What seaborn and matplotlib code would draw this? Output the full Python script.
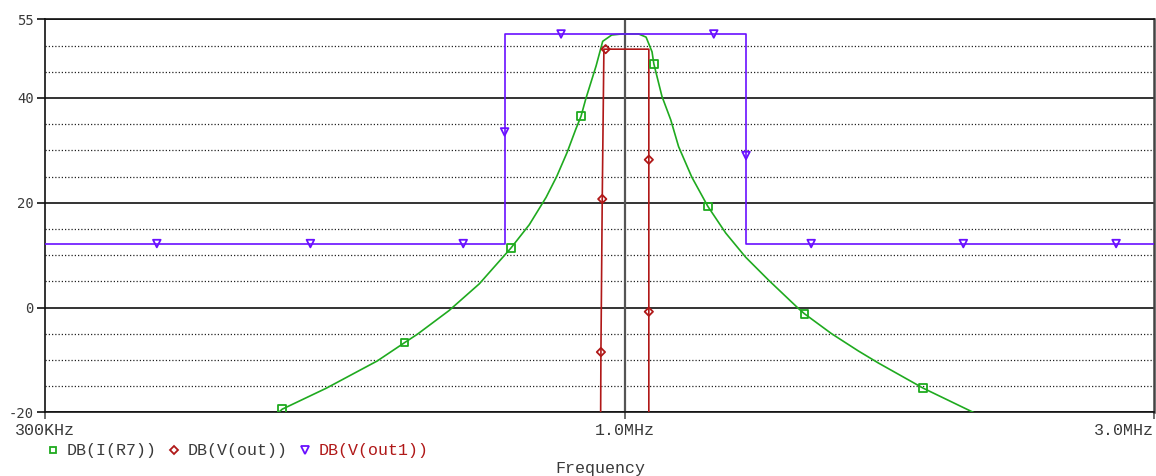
import numpy as np
import pandas as pd
import matplotlib
matplotlib.use("Agg")
import matplotlib.pyplot as plt
from matplotlib.lines import Line2D
from matplotlib.ticker import FixedLocator, NullLocator
import seaborn as sns

# ---- trace data (frequency in MHz, magnitude in dB) ----
# DB(I(R7)) : resonant current response
r7_freq = [0.470, 0.485, 0.491, 0.538, 0.598, 0.633, 0.650, 0.694, 0.739, 0.789,
           0.820, 0.849, 0.868, 0.887, 0.903, 0.913, 0.922, 0.934, 0.942, 0.955,
           0.973, 0.994, 1.013, 1.029, 1.045, 1.058, 1.062, 1.080, 1.100, 1.118,
           1.149, 1.188, 1.233, 1.285, 1.348, 1.434, 1.452, 1.536, 1.624, 1.693,
           1.858, 2.061, 2.120]
r7_db = [-21.9, -20.4, -19.4, -15.4, -10.2, -6.7, -5.1, -0.6, 4.5, 11.3,
         15.8, 21.0, 25.0, 29.6, 34.0, 36.5, 39.8, 43.6, 46.1, 50.8,
         52.0, 52.2, 52.2, 52.2, 51.6, 48.8, 46.5, 40.3, 35.8, 30.7,
         24.9, 19.3, 14.2, 9.6, 5.2, -0.2, -1.2, -5.0, -8.3, -10.6,
         -15.4, -20.0, -21.5]
r7_marks = [2, 5, 9, 15, 26, 31, 36, 40]

# DB(V(out)) : narrow band output
out_freq = [0.9505, 0.9515, 0.9541, 0.9574, 0.9608, 1.051, 1.051, 1.051, 1.051]
out_db = [-30.0, -8.5, 20.7, 49.3, 49.3, 49.3, 28.2, -0.8, -30.0]
out_marks = [1, 2, 4, 6, 7]

# DB(V(out1)) : wide band output
out1_freq = [0.300, 0.3784, 0.5205, 0.7149, 0.779, 0.779, 0.779, 0.8759, 1.2027,
             1.286, 1.286, 1.286, 1.4723, 2.0192, 2.773, 3.000]
out1_db = [12.2, 12.2, 12.2, 12.2, 12.2, 33.5, 52.2, 52.2, 52.2,
           52.2, 29.0, 12.2, 12.2, 12.2, 12.2, 12.2]
out1_marks = [1, 2, 3, 5, 7, 8, 10, 12, 13, 14]

trace_names = ["DB(I(R7))", "DB(V(out))", "DB(V(out1))"]

# axis annotation
y_major = [-20, 0, 20, 40, 55]
y_minor = [-15, -10, -5, 5, 10, 15, 25, 30, 35, 45, 50]
x_ticks_mhz = [0.3, 1.0, 3.0]
x_tick_labels = ["300KHz", "1.0MHz", "3.0MHz"]

GREEN = "#1faa1f"
RED = "#b01818"
PURPLE = "#6a10ff"
TEXT = "#3a3a3a"

sns.set_theme(style="white")
plt.rcParams["font.family"] = ["Liberation Mono", "DejaVu Sans Mono"]

fig = plt.figure(figsize=(11.56, 4.76), dpi=100)
ax = fig.add_axes([45 / 1156, 1 - 412.3 / 476, (1154 - 45) / 1156, (412.3 - 19.3) / 476])
ax.set_facecolor("white")

# grid: solid at labelled levels, dotted in between
for v in y_major:
    ax.axhline(v, color="#111111", lw=1.2, zorder=1)
for v in y_minor:
    ax.axhline(v, color="#222222", lw=0.9, ls=(0, (1, 1.6)), zorder=1)
ax.axvline(1.0e6, color="#555555", lw=1.6, zorder=1)


def draw_trace(freq, db, marks, color, marker, msize):
    hz = np.asarray(freq) * 1e6
    db = np.asarray(db)
    sns.lineplot(x=hz, y=db, ax=ax, sort=False, estimator=None,
                 color=color, lw=1.2, zorder=3)
    sns.scatterplot(x=hz[marks], y=db[marks], ax=ax, marker=marker, s=msize,
                    color=color, facecolor="none", edgecolor=color,
                    linewidth=1.3, zorder=4)


draw_trace(r7_freq, r7_db, r7_marks, GREEN, "s", 30)
draw_trace(out_freq, out_db, out_marks, RED, "D", 18)
draw_trace(out1_freq, out1_db, out1_marks, PURPLE, "v", 30)

ax.set_xscale("log")
ax.set_xlim(0.3e6, 3.0e6)
ax.set_ylim(-20, 55)

ax.xaxis.set_major_locator(FixedLocator([f * 1e6 for f in x_ticks_mhz]))
ax.xaxis.set_minor_locator(NullLocator())
ax.set_xticklabels(x_tick_labels)
ax.set_yticks(y_major)
ax.set_yticklabels([str(v) for v in y_major], family="DejaVu Sans Mono",
                   fontsize=10, color=TEXT)
for lab in ax.get_xticklabels():
    lab.set_fontsize(12)
    lab.set_color(TEXT)
ax.get_xticklabels()[-1].set_ha("right")

ax.tick_params(axis="y", direction="out", length=6, width=1.2, color="#111111",
               pad=2, left=True)
ax.tick_params(axis="x", direction="out", length=5, width=1.2, color="#555555",
               pad=3, bottom=True)

for side in ["left", "bottom", "top"]:
    ax.spines[side].set_color("#111111")
    ax.spines[side].set_linewidth(1.2)
ax.spines["right"].set_color("#444444")
ax.spines["right"].set_linewidth(1.8)

ax.set_xlabel("")
ax.set_ylabel("")
fig.text(600 / 1156, 1 - 468 / 476, "Frequency", fontsize=12, color=TEXT,
         ha="center", va="center")

handles = [
    Line2D([], [], ls="none", marker="s", mfc="none", mec=GREEN, ms=5, mew=1.3),
    Line2D([], [], ls="none", marker="D", mfc="none", mec=RED, ms=4, mew=1.3),
    Line2D([], [], ls="none", marker="v", mfc="none", mec=PURPLE, ms=5.5, mew=1.3),
]
leg = fig.legend(handles, trace_names, loc="center left",
                 bbox_to_anchor=(47 / 1156, 1 - 451 / 476), ncol=3,
                 frameon=False, fontsize=12, handlelength=0.7,
                 handletextpad=0.5, columnspacing=0.66, borderaxespad=0,
                 borderpad=0)
for txt in leg.get_texts():
    txt.set_color(TEXT)
leg.get_texts()[2].set_color(RED)

fig.savefig("out.png", dpi=100)
